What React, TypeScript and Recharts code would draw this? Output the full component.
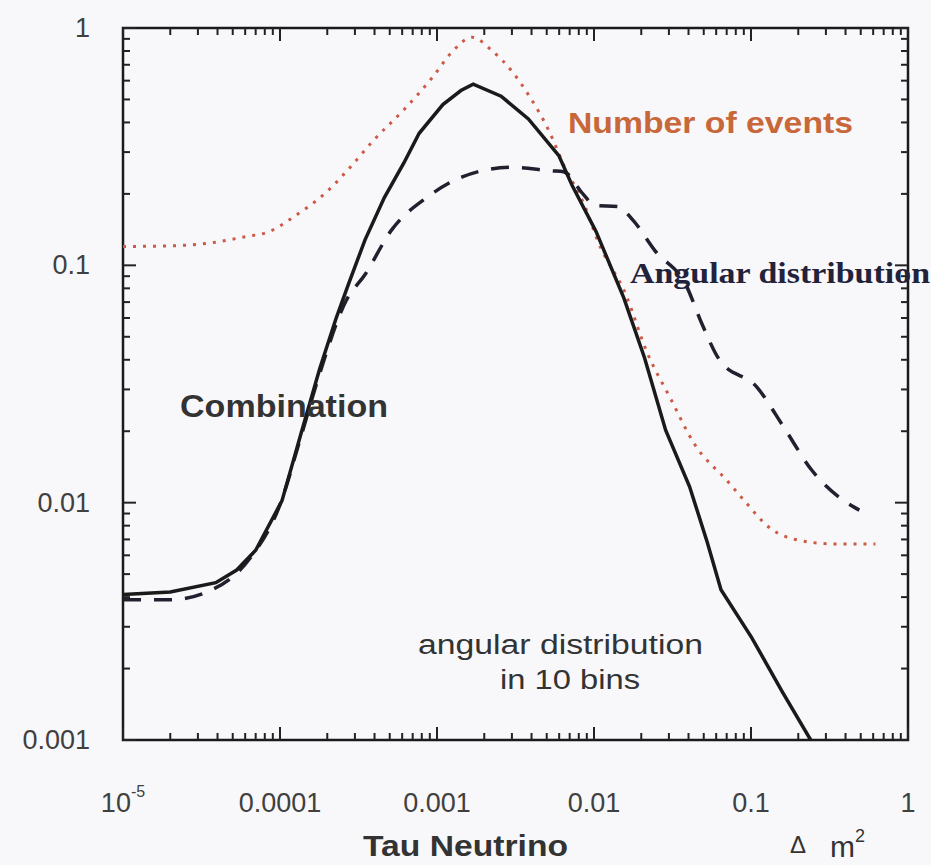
import { LineChart, Line, XAxis, YAxis, ReferenceArea } from 'recharts'

// curves, [delta m^2, value]
const combination = [
  [1e-5, 0.0041], [2e-5, 0.0042], [3.9e-5, 0.0046], [5.3e-5, 0.0052], [7e-5, 0.0063], [1.03e-4, 0.0102],
  [1.36e-4, 0.0195], [1.79e-4, 0.0367], [2.28e-4, 0.06], [2.73e-4, 0.0834], [3.48e-4, 0.128],
  [4.62e-4, 0.193], [6.15e-4, 0.27], [7.7e-4, 0.36], [1.09e-3, 0.476], [1.42e-3, 0.545],
  [1.7e-3, 0.58], [2.56e-3, 0.516], [3.82e-3, 0.414], [5.97e-3, 0.29], [7.26e-3, 0.217],
  [0.0103, 0.139], [0.0155, 0.0727], [0.021, 0.0407], [0.0286, 0.0202], [0.0406, 0.0117],
  [0.0527, 0.0068], [0.0644, 0.0043], [0.101, 0.0027], [0.158, 0.0016], [0.24, 0.001],
]

const angularDistribution = [
  [1e-5, 0.0039], [2e-5, 0.0039], [3.7e-5, 0.0043], [6.4e-5, 0.0058], [1e-4, 0.0098],
  [1.36e-4, 0.019], [1.79e-4, 0.035], [2.63e-4, 0.0707], [3.5e-4, 0.092], [5.1e-4, 0.14],
  [8.7e-4, 0.194], [1.45e-3, 0.236], [3e-3, 0.259], [5.4e-3, 0.25], [6.4e-3, 0.248],
  [8.5e-3, 0.2], [0.0101, 0.179], [0.0142, 0.177], [0.0177, 0.155], [0.0245, 0.115],
  [0.0384, 0.083], [0.0489, 0.0563], [0.0632, 0.0398], [0.109, 0.0307], [0.161, 0.0209],
  [0.242, 0.0138], [0.438, 0.0097], [0.49, 0.0093],
]

const numberOfEvents = [
  [1e-5, 0.12], [2.15e-5, 0.121], [3.85e-5, 0.125], [6e-5, 0.132], [8.35e-5, 0.138],
  [1.29e-4, 0.164], [2e-4, 0.205], [2.67e-4, 0.25], [3.94e-4, 0.336], [6.1e-4, 0.45],
  [9.4e-4, 0.622], [1.25e-3, 0.795], [1.67e-3, 0.914], [2.25e-3, 0.8], [3.03e-3, 0.652],
  [3.86e-3, 0.518], [5.2e-3, 0.365], [6.44e-3, 0.263], [8.7e-3, 0.179], [0.0106, 0.126],
  [0.016, 0.0748], [0.0216, 0.0435], [0.0306, 0.0276], [0.0433, 0.0178], [0.0718, 0.0122],
  [0.0873, 0.0105], [0.136, 0.0077], [0.191, 0.007], [0.344, 0.0067], [0.62, 0.0067],
]

const xMajorTicks = [1e-5, 1e-4, 1e-3, 0.01, 0.1, 1]
const xTickLabels = ['10', '0.0001', '0.001', '0.01', '0.1', '1']
const yMajorTicks = [0.001, 0.01, 0.1, 1]
const yTickLabels = ['0.001', '0.01', '0.1', '1']

const W = 931
const H = 865
const PLOT_W = 785
const PLOT_H = 712
const SANS = '"Liberation Sans", Arial, sans-serif'
const SERIF = '"Liberation Serif", "Times New Roman", serif'

const toPoints = (rows: number[][]) => rows.map(([x, y]) => ({ x, y }))

// decades plus 2..9 minor ticks
function withMinor(majors: number[]) {
  const out: number[] = []
  majors.forEach((m, i) => {
    out.push(m)
    if (i < majors.length - 1) for (let k = 2; k < 10; k++) out.push(+(m * k).toPrecision(3))
  })
  return out
}

const majorIndex = (majors: number[], v: number) =>
  majors.findIndex(t => Math.abs(Math.log10(t) - Math.log10(v)) < 1e-6)

function XTick({ x, y, payload }: any) {
  const i = majorIndex(xMajorTicks, payload.value)
  const len = i >= 0 ? 13 : 7
  return (
    <g>
      <line x1={x} x2={x} y1={y} y2={y - len} stroke="#222" strokeWidth={2} />
      <line x1={x} x2={x} y1={y - PLOT_H} y2={y - PLOT_H + len} stroke="#222" strokeWidth={2} />
      {i === 0 && (
        <text x={x} y={y + 72} textAnchor="middle" fontFamily={SANS} fontSize={27} fill="#404040">
          10<tspan dy={-15} fontSize={16}>-5</tspan>
        </text>
      )}
      {i > 0 && (
        <text x={x} y={y + 72} textAnchor="middle" fontFamily={SANS} fontSize={27} fill="#404040">
          {xTickLabels[i]}
        </text>
      )}
    </g>
  )
}

function YTick({ x, y, payload }: any) {
  const i = majorIndex(yMajorTicks, payload.value)
  const len = i >= 0 ? 13 : 7
  return (
    <g>
      <line x1={x} x2={x + len} y1={y} y2={y} stroke="#222" strokeWidth={2} />
      <line x1={x + PLOT_W} x2={x + PLOT_W - len} y1={y} y2={y} stroke="#222" strokeWidth={2} />
      {i >= 0 && (
        <text x={x - 33} y={y + 9} textAnchor="end" fontFamily={SANS} fontSize={27} fill="#404040">
          {yTickLabels[i]}
        </text>
      )}
    </g>
  )
}

export default function App() {
  return (
    <div style={{ position: 'relative', width: W, height: H, background: '#f8f8fb' }}>
      <style>{'body{margin:0;background:#f8f8fb}'}</style>
      <LineChart width={W} height={H} margin={{ top: 28, right: 23, bottom: 0, left: 0 }}>
        <XAxis
          type="number"
          dataKey="x"
          scale="log"
          domain={[1e-5, 1]}
          allowDataOverflow
          ticks={withMinor(xMajorTicks)}
          interval={0}
          height={125}
          tickSize={0}
          tickMargin={0}
          axisLine={false}
          tickLine={false}
          tick={<XTick />}
        />
        <YAxis
          type="number"
          scale="log"
          domain={[0.001, 1]}
          allowDataOverflow
          ticks={withMinor(yMajorTicks)}
          interval={0}
          width={123}
          tickSize={0}
          tickMargin={0}
          axisLine={false}
          tickLine={false}
          tick={<YTick />}
        />
        <ReferenceArea x1={1e-5} x2={1} y1={0.001} y2={1} fill="none" stroke="#1a1a1a" strokeWidth={2.5} />
        <Line
          data={toPoints(numberOfEvents)}
          dataKey="y"
          type="monotone"
          stroke="#cc5a45"
          strokeWidth={3}
          strokeDasharray="3 7"
          dot={false}
          isAnimationActive={false}
        />
        <Line
          data={toPoints(angularDistribution)}
          dataKey="y"
          type="monotone"
          stroke="#20202e"
          strokeWidth={3.5}
          strokeDasharray="18 13"
          dot={false}
          isAnimationActive={false}
        />
        <Line
          data={toPoints(combination)}
          dataKey="y"
          type="linear"
          stroke="#1a1a1a"
          strokeWidth={3.5}
          dot={false}
          isAnimationActive={false}
        />
      </LineChart>
      <svg width={W} height={H} style={{ position: 'absolute', left: 0, top: 0, pointerEvents: 'none' }}>
        <text x={568} y={133} textLength={285} lengthAdjust="spacingAndGlyphs" fontFamily={SANS} fontWeight="bold" fontSize={30} fill="#c8673a">
          Number of events
        </text>
        <text x={630} y={283} textLength={300} lengthAdjust="spacingAndGlyphs" fontFamily={SERIF} fontWeight="bold" fontSize={30} fill="#22223a">
          Angular distribution
        </text>
        <text x={180} y={417} textLength={208} lengthAdjust="spacingAndGlyphs" fontFamily={SANS} fontWeight="bold" fontSize={31} fill="#333">
          Combination
        </text>
        <text x={418} y={654} textLength={285} lengthAdjust="spacingAndGlyphs" fontFamily={SANS} fontSize={27} fill="#333">
          angular distribution
        </text>
        <text x={500} y={689} textLength={140} lengthAdjust="spacingAndGlyphs" fontFamily={SANS} fontSize={27} fill="#333">
          in 10 bins
        </text>
        <text x={363} y={856} textLength={205} lengthAdjust="spacingAndGlyphs" fontFamily={SANS} fontWeight="bold" fontSize={30} fill="#333">
          Tau Neutrino
        </text>
        <text x={790} y={853} fontFamily={SANS} fontSize={24} fill="#333">Δ</text>
        <text x={830} y={857} fontFamily={SANS} fontSize={30} fill="#333">
          m<tspan dy={-15} fontSize={18}>2</tspan>
        </text>
      </svg>
    </div>
  )
}
